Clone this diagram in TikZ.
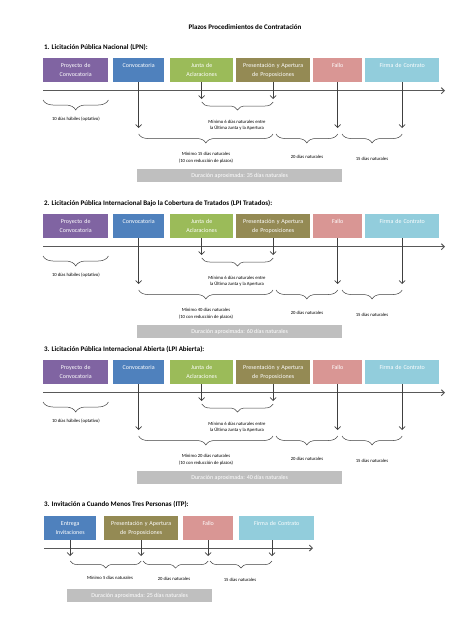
\documentclass[tikz,border=0pt]{standalone}
\usepackage{fontspec}
\setmainfont{Carlito}
\usetikzlibrary{arrows.meta,decorations.pathreplacing}

\definecolor{cpurple}{HTML}{8064A2}
\definecolor{cblue}{HTML}{4F81BD}
\definecolor{cgreen}{HTML}{9BBB59}
\definecolor{colive}{HTML}{948A54}
\definecolor{cpink}{HTML}{D99694}
\definecolor{clight}{HTML}{92CDDC}
\definecolor{bargray}{HTML}{BFBFBF}
\definecolor{axisgray}{HTML}{595959}
\definecolor{arrowgray}{HTML}{404040}

\newcommand{\boxfont}{\fontsize{6}{9}\selectfont}
\newcommand{\notefont}{\fontsize{4.7}{6.5}\selectfont}
\newcommand{\headfont}{\fontsize{7}{8}\selectfont\bfseries}

\tikzset{
  phase/.style={anchor=north west, minimum height=24pt, inner sep=0pt, text width=#1, align=center, text=white, font=\boxfont},
  heading/.style={anchor=west, inner sep=0pt, font=\headfont},
  note/.style={inner sep=0pt, align=center, font=\notefont},
  durbar/.style={anchor=north west, fill=bargray, text=white, minimum width=#1, minimum height=13pt, inner sep=0pt, font=\boxfont},
  timeline/.style={draw=axisgray, line width=1pt, -{Straight Barb[length=3pt,width=6pt]}},
  downarrow/.style={draw=arrowgray, line width=0.7pt, -{Straight Barb[length=3pt,width=6pt]}},
  dayspan/.style={draw=arrowgray, line width=0.5pt, decorate, decoration={brace, mirror, amplitude=#1}}
}

% una licitacion: prefijo, desplazamiento, titulo, minimo, duracion
\newcommand{\licitacion}[5]{%
  \begin{scope}[shift={(0,#2)}]
    \node[heading] (#1head) at (44,47) {#3};
    \node[phase=65pt, fill=cpurple] (#1pry) at (43,58) {Proyecto de\\Convocatoria};
    \node[phase=51pt, fill=cblue] (#1conv) at (113,58) {Convocatoria\\\mbox{}};
    \node[phase=63pt, fill=cgreen] (#1junta) at (170,58) {Junta de\\Aclaraciones};
    \node[phase=74pt, fill=colive] (#1pres) at (236,58) {Presentación y Apertura\\de Proposiciones};
    \node[phase=49pt, fill=cpink] (#1fallo) at (313,58) {Fallo\\\mbox{}};
    \node[phase=74pt, fill=clight] (#1firma) at (365,58) {Firma de Contrato\\\mbox{}};
    % eje
    \coordinate (#1ini) at (43,90.7);
    \coordinate (#1fin) at (445,90.7);
    \draw[timeline] (#1ini) -- (#1fin);
    % flechas
    \coordinate (#1e1) at (#1conv.south |- 0,128);
    \coordinate (#1e2) at (#1junta.south |- 0,99);
    \coordinate (#1e3) at (#1pres.south |- 0,99);
    \coordinate (#1e4) at (#1fallo.south |- 0,128);
    \coordinate (#1e5) at (#1firma.south |- 0,128);
    \draw[downarrow] (#1conv) -- (#1e1);
    \draw[downarrow] (#1junta) -- (#1e2);
    \draw[downarrow] (#1pres) -- (#1e3);
    \draw[downarrow] (#1fallo) -- (#1e4);
    \draw[downarrow] (#1firma) -- (#1e5);
    % llaves
    \coordinate (#1b1) at (#1pry.west |- 0,100);
    \coordinate (#1b2) at (#1pry.east |- 0,100);
    \coordinate (#1b3) at (#1e2 |- 0,102);
    \coordinate (#1b4) at (#1e3 |- 0,102);
    \coordinate (#1b5) at (#1e1 |- 0,134);
    \coordinate (#1b6) at (273,134);
    \coordinate (#1b7) at (276,134);
    \coordinate (#1b8) at (#1e4 |- 0,134);
    \coordinate (#1b9) at (342,134);
    \coordinate (#1b10) at (#1e5 |- 0,134);
    \draw[dayspan=10pt] (#1b1) -- (#1b2);
    \draw[dayspan=8pt] (#1b3) -- (#1b4);
    \draw[dayspan=9pt] (#1b5) -- (#1b6);
    \draw[dayspan=9pt] (#1b7) -- (#1b8);
    \draw[dayspan=9pt] (#1b9) -- (#1b10);
    \node[note] (#1l1) at (76,119) {10 días hábiles (optativo)};
    \node[note] (#1l2) at (237,125) {Mínimo 6 días naturales entre\\la Última Junta y la Apertura};
    \node[note] (#1l3) at (206,157.5) {#4\\(10 con reducción de plazos)};
    \node[note] (#1l4) at (307,157) {20 días naturales};
    \node[note] (#1l5) at (372,159) {15 días naturales};
    \node[durbar=205pt] (#1dur) at (137,169) {#5};
  \end{scope}}

\begin{document}
\begin{tikzpicture}[x=1pt, y=-1pt]
  \fill[white] (0,0) rectangle (474,632);
  \useasboundingbox (0,0) rectangle (474,632);
  \node[font=\fontsize{7}{8}\selectfont\bfseries] (titulo) at (245,27) {Plazos Procedimientos de Contratación};

  \licitacion{a}{0}{1. Licitación Pública Nacional (LPN):}{Mínimo 15 días naturales}{Duración aproximada: 35 días naturales}
  \licitacion{b}{156}{2. Licitación Pública Internacional Bajo la Cobertura de Tratados (LPI Tratados):}{Mínimo 40 días naturales}{Duración aproximada: 60 días naturales}
  \licitacion{c}{302}{3. Licitación Pública Internacional Abierta (LPI Abierta):}{Mínimo 20 días naturales}{Duración aproximada: 40 días naturales}

  % invitacion
  \node[heading] (ihead) at (44,504) {3. Invitación a Cuando Menos Tres Personas (ITP):};
  \node[phase=52pt, fill=cblue] (ient) at (44,516) {Entrega\\Invitaciones};
  \node[phase=74pt, fill=colive] (ipres) at (104,516) {Presentación y Apertura\\de Proposiciones};
  \node[phase=50pt, fill=cpink] (ifallo) at (183,516) {Fallo\\\mbox{}};
  \node[phase=75pt, fill=clight] (ifirma) at (239,516) {Firma de Contrato\\\mbox{}};
  \coordinate (iini) at (44,548);
  \coordinate (ifin) at (313,548);
  \draw[timeline] (iini) -- (ifin);
  \coordinate (ie1) at (ient.south |- 0,556);
  \coordinate (ie2) at (ipres.south |- 0,556);
  \coordinate (ie3) at (ifallo.south |- 0,556);
  \coordinate (ie4) at (272,556);
  \draw[downarrow] (ient) -- (ie1);
  \draw[downarrow] (ipres) -- (ie2);
  \draw[downarrow] (ifallo) -- (ie3);
  \draw[downarrow] (ifirma.south -| ie4) -- (ie4);
  \coordinate (ib1) at (ie1 |- 0,561);
  \coordinate (ib2) at (ie2 |- 0,561);
  \coordinate (ib3) at (143,561);
  \coordinate (ib4) at (ie3 |- 0,561);
  \coordinate (ib5) at (210,561);
  \coordinate (ib6) at (ie4 |- 0,561);
  \draw[dayspan=7pt] (ib1) -- (ib2);
  \draw[dayspan=7pt] (ib3) -- (ib4);
  \draw[dayspan=7pt] (ib5) -- (ib6);
  \node[note] (il1) at (110,578) {Mínimo 5 días naturales};
  \node[note] (il2) at (174,579) {20 días naturales};
  \node[note] (il3) at (240,580) {15 días naturales};
  \node[durbar=145pt] (idur) at (67,589) {Duración aproximada: 25 días naturales};
\end{tikzpicture}
\end{document}
